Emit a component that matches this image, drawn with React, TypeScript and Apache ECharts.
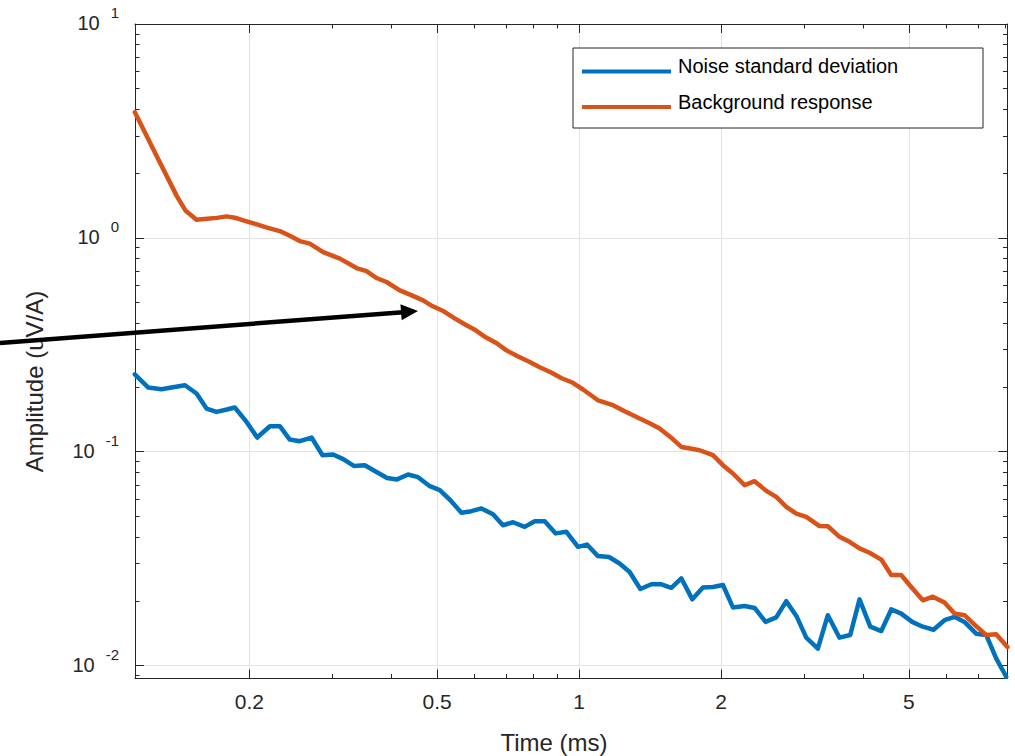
import React, { useEffect, useRef } from 'react';
import * as echarts from 'echarts';

// ---- data ----
const seriesNames = ['Noise standard deviation', 'Background response'];

const noiseTime = [0.1143, 0.1221, 0.1302, 0.1377, 0.146, 0.1545, 0.1622, 0.1703, 0.1783, 0.1862, 0.1972, 0.2077, 0.221, 0.232, 0.2435, 0.2557, 0.2708, 0.2857, 0.3009, 0.316, 0.3329, 0.3512, 0.3718, 0.3916, 0.4111, 0.4338, 0.4555, 0.4824, 0.5064, 0.5334, 0.5629, 0.591, 0.6205, 0.6566, 0.6894, 0.7239, 0.7664, 0.805, 0.8451, 0.8917, 0.9395, 0.9942, 1.0388, 1.096, 1.1564, 1.2184, 1.2794, 1.3479, 1.4223, 1.4934, 1.568, 1.6463, 1.7372, 1.8294, 1.9209, 2.017, 2.118, 2.2422, 2.3543, 2.4843, 2.6168, 2.7479, 2.8933, 3.0297, 3.2057, 3.366, 3.5638, 3.7548, 3.9289, 4.1399, 4.3691, 4.5868, 4.8152, 5.0809, 5.3509, 5.6378, 5.9484, 6.246, 6.5571, 6.9423, 7.2898, 7.6551, 8.038];
const noiseValue = [0.2302, 0.1995, 0.1959, 0.2001, 0.2045, 0.1871, 0.1591, 0.1535, 0.1572, 0.1609, 0.1378, 0.1165, 0.1316, 0.1316, 0.114, 0.112, 0.1165, 0.0963, 0.097, 0.0923, 0.0858, 0.0865, 0.0804, 0.0754, 0.0742, 0.0782, 0.076, 0.069, 0.0661, 0.0593, 0.0518, 0.0527, 0.0543, 0.051, 0.0453, 0.0468, 0.0445, 0.0473, 0.0473, 0.0415, 0.0422, 0.0359, 0.0368, 0.0325, 0.0322, 0.03, 0.0274, 0.0228, 0.024, 0.024, 0.0231, 0.0256, 0.0204, 0.0232, 0.0233, 0.0238, 0.0187, 0.019, 0.0186, 0.016, 0.0168, 0.02, 0.0169, 0.0135, 0.012, 0.0172, 0.0135, 0.0139, 0.0204, 0.0152, 0.0145, 0.0183, 0.0175, 0.016, 0.0152, 0.0147, 0.0163, 0.0169, 0.016, 0.0141, 0.0139, 0.0108, 0.00887];

const bgTime = [0.1143, 0.1207, 0.1273, 0.134, 0.1404, 0.1463, 0.1545, 0.1625, 0.1706, 0.1789, 0.1862, 0.1956, 0.2074, 0.2188, 0.232, 0.2435, 0.2557, 0.2685, 0.2866, 0.311, 0.3373, 0.3541, 0.3718, 0.3905, 0.4166, 0.4417, 0.4667, 0.4893, 0.5163, 0.5447, 0.5719, 0.6035, 0.6336, 0.6687, 0.701, 0.7406, 0.7855, 0.8249, 0.8701, 0.9181, 0.9641, 1.0172, 1.096, 1.1793, 1.2485, 1.3433, 1.4105, 1.4809, 1.5627, 1.6463, 1.7313, 1.7999, 1.9209, 2.017, 2.118, 2.2422, 2.3543, 2.4929, 2.6168, 2.7479, 2.8853, 3.0297, 3.2325, 3.366, 3.5638, 3.7418, 3.9289, 4.1264, 4.3691, 4.5868, 4.8152, 5.0565, 5.3509, 5.6184, 5.9484, 6.246, 6.5571, 6.9423, 7.2898, 7.6551, 8.087];
const bgValue = [3.871, 3.045, 2.403, 1.918, 1.563, 1.344, 1.216, 1.227, 1.24, 1.26, 1.243, 1.201, 1.156, 1.114, 1.076, 1.022, 0.966, 0.9395, 0.8583, 0.7996, 0.7225, 0.6996, 0.6489, 0.6216, 0.5683, 0.5386, 0.5104, 0.4786, 0.4535, 0.4205, 0.3943, 0.3696, 0.3428, 0.3214, 0.2979, 0.2794, 0.2628, 0.2482, 0.2352, 0.2206, 0.2113, 0.1959, 0.174, 0.165, 0.1546, 0.1429, 0.1359, 0.1283, 0.1169, 0.1053, 0.1033, 0.1016, 0.0963, 0.0865, 0.0791, 0.0698, 0.0728, 0.0656, 0.0615, 0.0552, 0.0514, 0.0496, 0.0449, 0.0448, 0.04, 0.0379, 0.0353, 0.0337, 0.0313, 0.0265, 0.0265, 0.0233, 0.0202, 0.021, 0.0197, 0.0175, 0.0172, 0.0153, 0.0139, 0.014, 0.0122];

const xRange = [0.1144, 8.09];
const yRange = [0.0087, 10.0001];
const xMajorTicks = [0.2, 0.5, 1, 2, 5];
const xMajorLabels = ['0.2', '0.5', '1', '2', '5'];
const xMinorTicks = [0.3, 0.4, 0.6, 0.7, 0.8, 0.9, 3, 4, 6, 7, 8];
const yMajorTicks = [0.01, 0.1, 1, 10];
const yMajorExponents = ['-2', '-1', '0', '1'];
const yMinorTicks = [0.009, 0.02, 0.03, 0.04, 0.05, 0.06, 0.07, 0.08, 0.09, 0.2, 0.3, 0.4, 0.5, 0.6, 0.7, 0.8, 0.9, 2, 3, 4, 5, 6, 7, 8, 9];

const xTitle = 'Time (ms)';
const yTitle = 'Amplitude (uV/A)';

// ---- styles ----
const FONT = '"Liberation Sans", Arial, Helvetica, sans-serif';
const AXIS_COLOR = '#262626';
const GRID_COLOR = '#e3e3e3';
const COLORS = ['#0072BD', '#D95319'];
const MAJOR_LEN = 9;
const MINOR_LEN = 4.5;

function nearestIndex(ticks: number[], v: number) {
  let best = 0;
  let bestD = Infinity;
  ticks.forEach((t, i) => {
    const d = Math.abs(Math.log10(t) - Math.log10(v));
    if (d < bestD) {
      bestD = d;
      best = i;
    }
  });
  return best;
}

function makeAxis(dim: 'x' | 'y', position: string, ticks: number[], len: number, showLine: boolean, extra: any = {}) {
  const range = dim === 'x' ? xRange : yRange;
  return {
    type: 'log',
    logBase: 10,
    min: range[0],
    max: range[1],
    position,
    axisLine: { show: showLine, onZero: false, lineStyle: { color: AXIS_COLOR, width: 1 } },
    axisTick: { show: true, inside: true, length: len, customValues: ticks, lineStyle: { color: AXIS_COLOR, width: 1 } },
    axisLabel: { show: false },
    splitLine: { show: false },
    axisPointer: { show: false },
    ...extra,
  };
}

const xAxes = [
  makeAxis('x', 'bottom', xMajorTicks, MAJOR_LEN, true, {
    axisLabel: {
      show: true,
      customValues: xMajorTicks,
      formatter: (v: number) => xMajorLabels[nearestIndex(xMajorTicks, v)],
      fontSize: 21,
      fontFamily: FONT,
      color: AXIS_COLOR,
      margin: 12,
    },
    splitLine: { show: true, lineStyle: { color: GRID_COLOR, width: 1 } },
  }),
  makeAxis('x', 'bottom', xMinorTicks, MINOR_LEN, false),
  makeAxis('x', 'top', xMajorTicks, MAJOR_LEN, true),
  makeAxis('x', 'top', xMinorTicks, MINOR_LEN, false),
];

const yAxes = [
  makeAxis('y', 'left', yMajorTicks, MAJOR_LEN, true, {
    axisLabel: {
      show: true,
      customValues: yMajorTicks,
      formatter: (v: number) => `{b|10}{s|${yMajorExponents[nearestIndex(yMajorTicks, v)]}}`,
      margin: 16,
      padding: [0, 0, 10, 0],
      rich: {
        b: { fontSize: 20, fontFamily: FONT, color: AXIS_COLOR, lineHeight: 28, verticalAlign: 'bottom' },
        s: { fontSize: 15, fontFamily: FONT, color: AXIS_COLOR, lineHeight: 15, verticalAlign: 'top', padding: [0, 0, 0, 11] },
      },
    },
    splitLine: { show: true, lineStyle: { color: GRID_COLOR, width: 1 } },
  }),
  makeAxis('y', 'left', yMinorTicks, MINOR_LEN, false),
  makeAxis('y', 'right', yMajorTicks, MAJOR_LEN, true),
  makeAxis('y', 'right', yMinorTicks, MINOR_LEN, false),
];

// arrow annotation (figure coordinates)
const arrowTail = [0, 343];
const arrowTip = [418, 311];

function buildArrow() {
  const dx = arrowTip[0] - arrowTail[0];
  const dy = arrowTip[1] - arrowTail[1];
  const L = Math.hypot(dx, dy);
  const ux = dx / L;
  const uy = dy / L;
  const headLen = 17;
  const halfW = 8;
  const bx = arrowTip[0] - ux * headLen;
  const by = arrowTip[1] - uy * headLen;
  const nx = -uy;
  const ny = ux;
  return [
    {
      type: 'line',
      z: 20,
      shape: { x1: arrowTail[0], y1: arrowTail[1], x2: bx + ux * 2, y2: by + uy * 2 },
      style: { stroke: '#000', lineWidth: 4.5 },
    },
    {
      type: 'polygon',
      z: 20,
      shape: {
        points: [
          [arrowTip[0], arrowTip[1]],
          [bx + nx * halfW, by + ny * halfW],
          [bx - nx * halfW, by - ny * halfW],
        ],
      },
      style: { fill: '#000' },
    },
  ];
}

export default function App() {
  const ref = useRef<HTMLDivElement>(null);
  useEffect(() => {
    document.body.style.margin = '0';
    const chart = echarts.init(ref.current as HTMLDivElement, null, { renderer: 'svg' });
    const option: any = {
      animation: false,
      backgroundColor: '#ffffff',
      grid: { left: 135, top: 24, width: 872.5, height: 654.5, containLabel: false, outerBoundsMode: 'none' },
      xAxis: xAxes,
      yAxis: yAxes,
      legend: {
        orient: 'vertical',
        left: 582,
        top: 56,
        padding: 0,
        itemGap: 4.5,
        itemWidth: 89,
        itemHeight: 4,
        icon: 'rect',
        selectedMode: false,
        z: 10,
        formatter: (name: string) => `{t|${name}}`,
        textStyle: {
          fontSize: 20,
          fontFamily: FONT,
          color: '#000',
          rich: { t: { fontSize: 20, fontFamily: FONT, color: '#000', lineHeight: 20, padding: [0, 0, 11, 2] } },
        },
        data: seriesNames,
      },
      graphic: [
        {
          type: 'rect',
          z: 3,
          shape: { x: 573, y: 48, width: 410, height: 80 },
          style: { fill: '#ffffff', stroke: AXIS_COLOR, lineWidth: 1 },
        },
        {
          type: 'text',
          z: 5,
          x: 554,
          y: 742,
          style: { text: xTitle, font: `24px ${FONT}`, fill: AXIS_COLOR, textAlign: 'center', textVerticalAlign: 'middle' },
        },
        {
          type: 'text',
          z: 5,
          x: 34,
          y: 381.5,
          rotation: Math.PI / 2,
          style: { text: yTitle, font: `24px ${FONT}`, fill: AXIS_COLOR, textAlign: 'center', textVerticalAlign: 'middle' },
        },
        ...buildArrow(),
      ],
      series: [
        {
          name: seriesNames[0],
          type: 'line',
          xAxisIndex: 0,
          yAxisIndex: 0,
          data: noiseTime.map((t, i) => [t, noiseValue[i]]),
          showSymbol: false,
          symbol: 'none',
          color: COLORS[0],
          lineStyle: { color: COLORS[0], width: 4.5, join: 'round', cap: 'round' },
          z: 2,
        },
        {
          name: seriesNames[1],
          type: 'line',
          xAxisIndex: 0,
          yAxisIndex: 0,
          data: bgTime.map((t, i) => [t, bgValue[i]]),
          showSymbol: false,
          symbol: 'none',
          color: COLORS[1],
          lineStyle: { color: COLORS[1], width: 4.5, join: 'round', cap: 'round' },
          z: 2,
        },
      ],
    };
    chart.setOption(option);
    return () => chart.dispose();
  }, []);
  return <div ref={ref} style={{ width: 1015, height: 756, background: '#fff' }} />;
}
